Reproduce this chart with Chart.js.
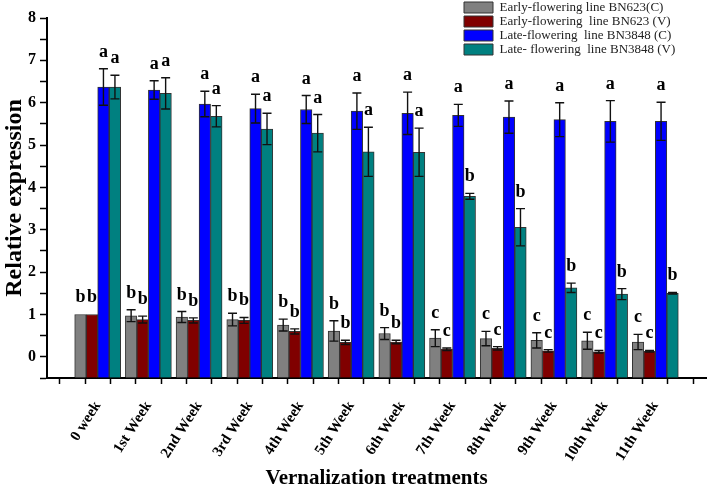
<!DOCTYPE html>
<html><head><meta charset="utf-8">
<script src="https://cdn.jsdelivr.net/npm/chart.js@4/dist/chart.umd.min.js"></script>
<style>html,body{margin:0;padding:0;background:#fff;}#wrap{width:709px;height:489px;}</style>
</head><body><div id="wrap"><canvas id="c" width="709" height="489"></canvas></div>
<script>
const categories = ['0 week','1st Week','2nd Week','3rd Week','4th Week','5th Week','6th Week','7th Week','8th Week','9th Week','10th Week','11th Week'];
const seriesNames = ['Early-flowering line BN623(C)','Early-flowering  line BN623 (V)','Late-flowering  line BN3848 (C)','Late- flowering  line BN3848 (V)'];
const yTickValues = [0,1,2,3,4,5,6,7,8];

const earlyC        = [1.00,0.97,0.94,0.88,0.75,0.61,0.55,0.44,0.43,0.39,0.38,0.35];
const earlyCErr     = [0.00,0.14,0.13,0.15,0.14,0.24,0.14,0.20,0.17,0.18,0.20,0.18];
const earlyCLetters = ['b','b','b','b','b','b','b','c','c','c','c','c'];

const earlyV        = [1.00,0.88,0.86,0.86,0.60,0.34,0.35,0.18,0.20,0.14,0.12,0.13];
const earlyVErr     = [0.00,0.08,0.06,0.07,0.06,0.05,0.04,0.03,0.04,0.03,0.03,0.02];
const earlyVLetters = ['b','b','b','b','b','b','b','c','c','c','c','c'];

const lateC         = [6.37,6.30,5.97,5.86,5.84,5.80,5.75,5.70,5.66,5.60,5.56,5.56];
const lateCErr      = [0.43,0.22,0.30,0.34,0.33,0.43,0.50,0.26,0.38,0.40,0.49,0.45];
const lateCLetters  = ['a','a','a','a','a','a','a','a','a','a','a','a'];

const lateV         = [6.37,6.22,5.68,5.38,5.28,4.84,4.83,3.79,3.06,1.63,1.48,1.50];
const lateVErr      = [0.28,0.37,0.25,0.37,0.44,0.58,0.57,0.07,0.44,0.11,0.13,0.02];
const lateVLetters  = ['a','a','a','a','a','a','a','b','b','b','b','b'];

const colors = ['#808080','#800000','#0000FF','#008080'];

const SERIF = '"Liberation Serif", "Times New Roman", serif';

function mk(i, vals, errs, letters) {
  return {
    label: seriesNames[i],
    data: vals.map((v, k) => ({x: k + 1, y: v})),
    errors: errs,
    letters: letters,
    backgroundColor: colors[i],
    borderColor: '#333333',
    borderWidth: 1,
    borderSkipped: 'bottom',
    base: -0.5,
    barThickness: 11.5
  };
}

const errLetters = {
  id: 'errLetters',
  afterDatasetsDraw(chart) {
    const ctx = chart.ctx, ys = chart.scales.y;
    chart.data.datasets.forEach((ds, i) => {
      const meta = chart.getDatasetMeta(i);
      meta.data.forEach((bar, j) => {
        const v = ds.data[j].y, e = ds.errors[j], x = bar.x;
        const top = ys.getPixelForValue(v + e), bot = ys.getPixelForValue(v - e);
        ctx.save();
        if (e > 0) {
          ctx.strokeStyle = '#111'; ctx.lineWidth = 1.4;
          ctx.beginPath();
          ctx.moveTo(x, top); ctx.lineTo(x, bot);
          ctx.moveTo(x - 4.5, top); ctx.lineTo(x + 4.5, top);
          ctx.moveTo(x - 4.5, bot); ctx.lineTo(x + 4.5, bot);
          ctx.stroke();
        }
        ctx.fillStyle = '#000';
        ctx.font = 'bold 18px ' + SERIF;
        ctx.textAlign = 'center'; ctx.textBaseline = 'alphabetic';
        ctx.fillText(ds.letters[j], x, top - 12);
        ctx.restore();
      });
    });
  }
};

const legendPlace = {
  id: 'legendPlace',
  afterLayout(chart) {
    const lg = chart.legend; if (!lg) return;
    const w = lg.width, h = lg.height;
    lg.left = 463; lg.top = 0; lg.right = lg.left + w; lg.bottom = lg.top + h;
  }
};

new Chart(document.getElementById('c'), {
  type: 'bar',
  data: { datasets: [
    mk(0, earlyC, earlyCErr, earlyCLetters),
    mk(1, earlyV, earlyVErr, earlyVLetters),
    mk(2, lateC, lateCErr, lateCLetters),
    mk(3, lateV, lateVErr, lateVLetters)
  ]},
  options: {
    responsive: false, animation: false, devicePixelRatio: 1,
    layout: { padding: { top: 18, right: 3, left: 0, bottom: 0 } },
    plugins: {
      legend: {
        position: 'chartArea', align: 'start',
        labels: { boxWidth: 29, boxHeight: 11, padding: 1, color: '#222',
                  font: { family: SERIF, size: 13 } }
      },
      tooltip: { enabled: false }
    },
    scales: {
      x: {
        type: 'linear', min: 0, max: 13, offset: false,
        grid: { drawOnChartArea: false, drawTicks: true, tickLength: 6, color: '#000', tickWidth: 1.5 },
        border: { display: true, color: '#000', width: 2 },
        ticks: {
          stepSize: 0.5, autoSkip: false, maxTicksLimit: 40, minRotation: 57.5, maxRotation: 57.5, padding: 14,
          color: '#000', font: { family: SERIF, size: 15, weight: 'bold' },
          callback: (v) => (Number.isInteger(v) && v >= 1 && v <= categories.length) ? categories[v - 1] : ''
        },
        title: { display: true, text: 'Vernalization treatments', color: '#000',
                 font: { family: SERIF, size: 21, weight: 'bold', lineHeight: 1 }, padding: { top: 0, bottom: 0 } },
        afterFit(s) { s.height = 111; s.paddingRight = 0; }
      },
      y: {
        min: -0.5, max: 8,
        grid: { drawOnChartArea: false, drawTicks: true, tickLength: 7, color: '#000', tickWidth: 1.5 },
        border: { display: true, color: '#000', width: 2 },
        ticks: {
          stepSize: 0.5, maxTicksLimit: 40, autoSkip: false, color: '#000', padding: 4,
          font: { family: SERIF, size: 16, weight: 'bold', lineHeight: 1 },
          callback: (v) => yTickValues.includes(v) ? String(v) : ''
        },
        title: { display: true, text: 'Relative expression', color: '#000',
                 font: { family: SERIF, size: 24, weight: 'bold' }, padding: { top: 0, bottom: 2 } },
        afterFit(s) { s.width = 47; }
      }
    }
  },
  plugins: [errLetters, legendPlace]
});
</script></body></html>
